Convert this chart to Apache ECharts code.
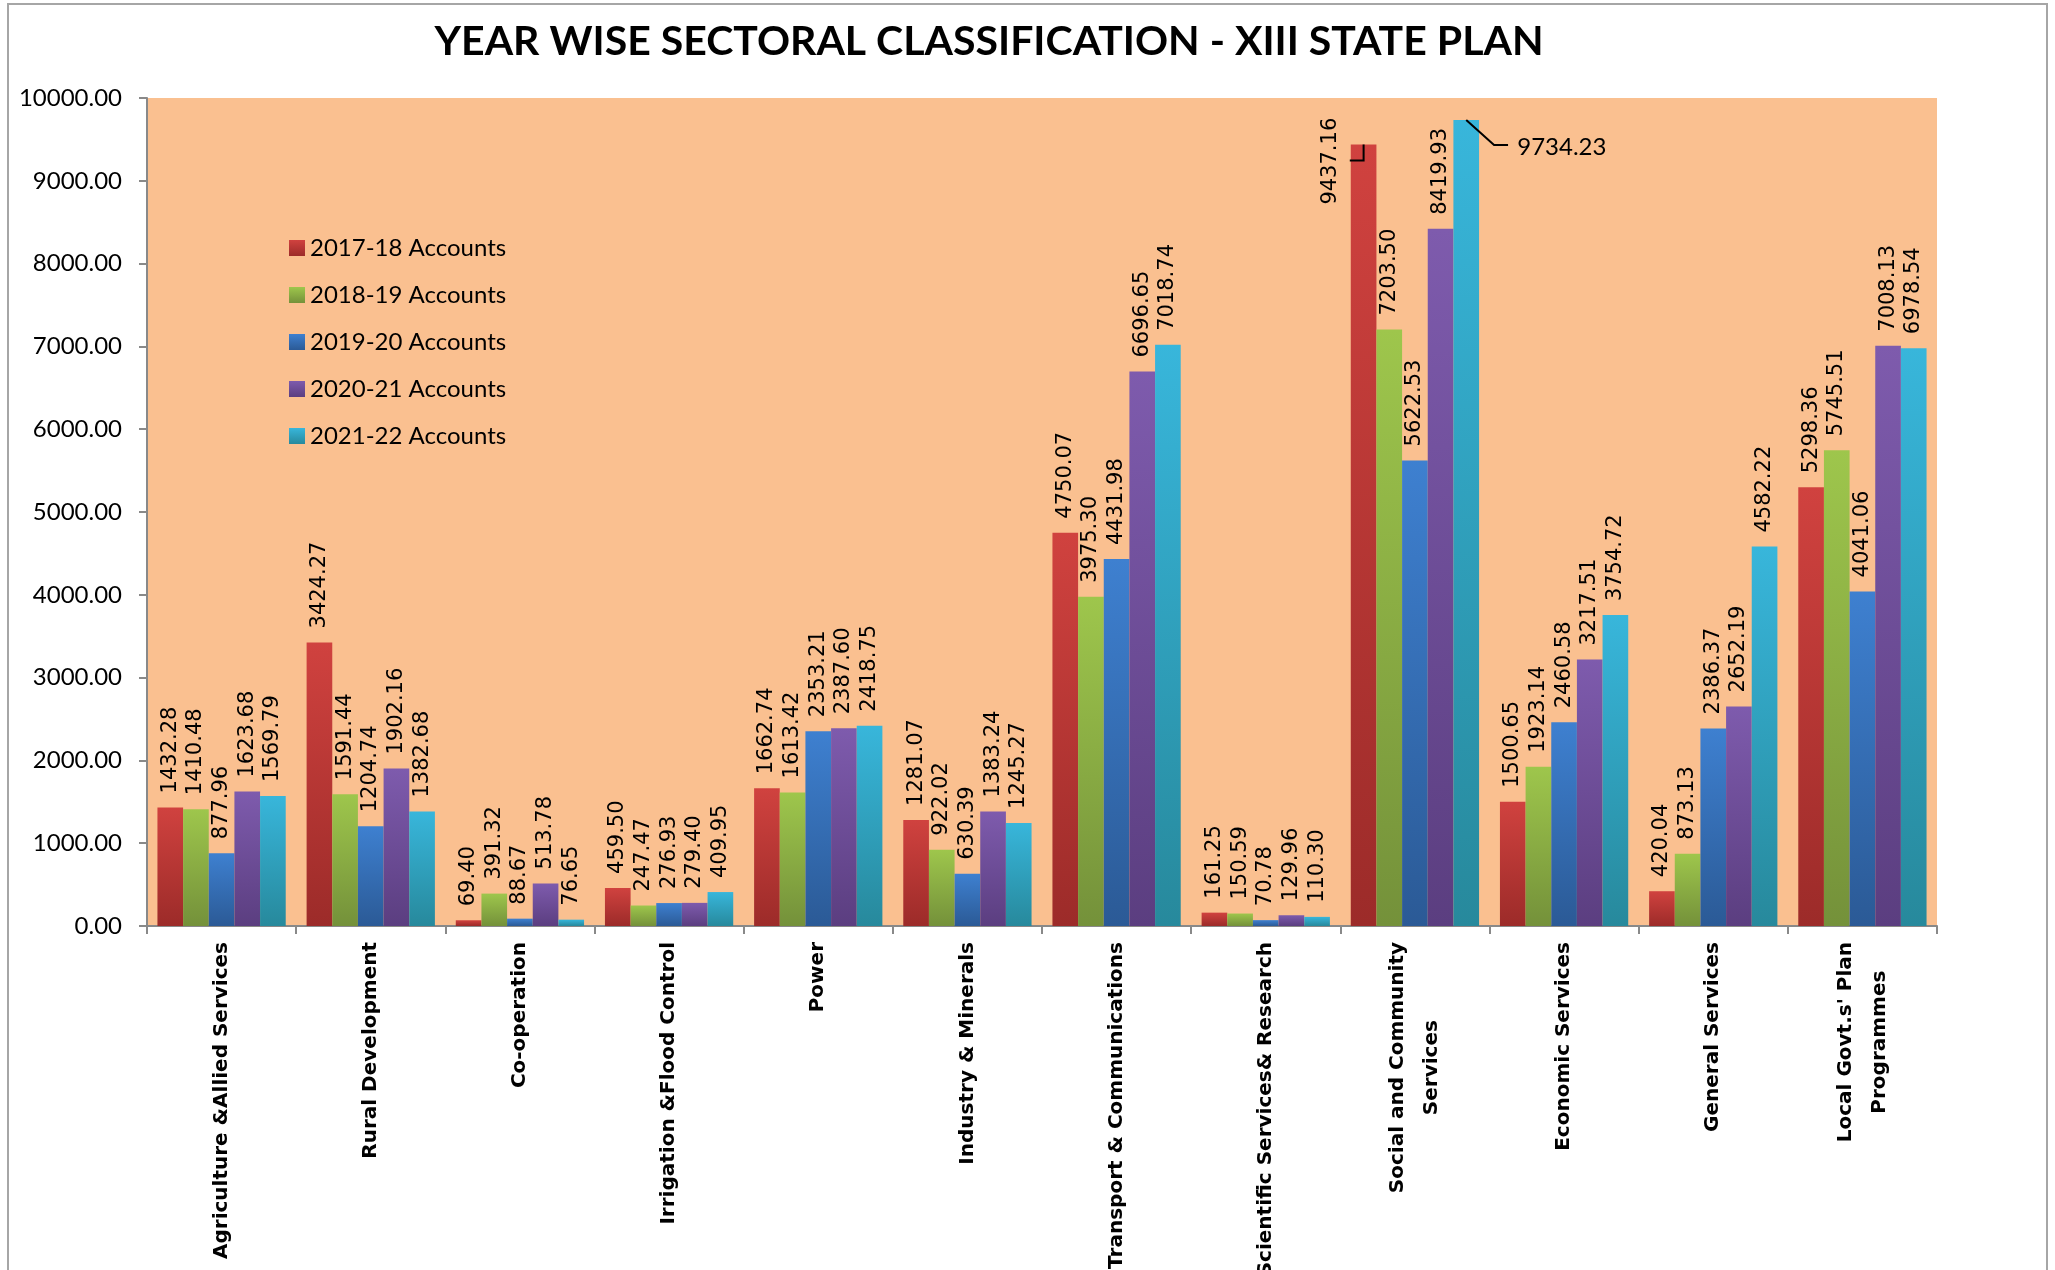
<!DOCTYPE html>
<html><head><meta charset="utf-8">
<script src="https://cdn.jsdelivr.net/npm/echarts@6/dist/echarts.min.js"></script>
<style>html,body{margin:0;padding:0;background:#fff}#c{width:2055px;height:1270px}</style>
</head><body><div id="c"></div>
<script>
const categories = [
  "Agriculture &Allied Services", "Rural Development", "Co-operation", "Irrigation &Flood Control",
  "Power", "Industry & Minerals", "Transport & Communications", "Scientific Services& Research",
  "Social and Community\nServices", "Economic Services", "General Services", "Local Govt.s' Plan\nProgrammes"
];
const seriesNames = ["2017-18 Accounts", "2018-19 Accounts", "2019-20 Accounts", "2020-21 Accounts", "2021-22 Accounts"];
const acc2017_18 = [1432.28, 3424.27, 69.40, 459.50, 1662.74, 1281.07, 4750.07, 161.25, 9437.16, 1500.65, 420.04, 5298.36];
const acc2018_19 = [1410.48, 1591.44, 391.32, 247.47, 1613.42, 922.02, 3975.30, 150.59, 7203.50, 1923.14, 873.13, 5745.51];
const acc2019_20 = [877.96, 1204.74, 88.67, 276.93, 2353.21, 630.39, 4431.98, 70.78, 5622.53, 2460.58, 2386.37, 4041.06];
const acc2020_21 = [1623.68, 1902.16, 513.78, 279.40, 2387.60, 1383.24, 6696.65, 129.96, 8419.93, 3217.51, 2652.19, 7008.13];
const acc2021_22 = [1569.79, 1382.68, 76.65, 409.95, 2418.75, 1245.27, 7018.74, 110.30, 9734.23, 3754.72, 4582.22, 6978.54];
const yMin = 0, yMax = 10000, yStep = 1000;

const allSeries = [acc2017_18, acc2018_19, acc2019_20, acc2020_21, acc2021_22];
const gradStops = [
  ['#D0423F', '#9C2B29'],
  ['#9EC64C', '#74913A'],
  ['#3E80D0', '#2B5A96'],
  ['#7E5BAD', '#5B3E80'],
  ['#38B6DB', '#27899C']
];
function grad(c) {
  return new echarts.graphic.LinearGradient(0, 0, 0, 1, [{offset: 0, color: c[0]}, {offset: 1, color: c[1]}]);
}
const labelFont = {fontFamily: 'DejaVu Sans', fontSize: 21, color: '#000'};
const calloutIndex = 8;

const chart = echarts.init(document.getElementById('c'), null, {renderer: 'canvas'});

const series = allSeries.map((vals, si) => {
  const data = vals.map((v, di) => {
    const item = {value: v};
    if (si === 4 && di === calloutIndex) {
      item.label = {rotate: 0, align: 'left', verticalAlign: 'middle', fontFamily: 'Lato', fontSize: 24};
    }
    return item;
  });
  const s = {
    name: seriesNames[si],
    type: 'bar',
    data: data,
    barGap: '0%',
    barCategoryGap: '14%',
    itemStyle: {color: grad(gradStops[si])},
    label: Object.assign({
      show: true, position: 'top', distance: 14, rotate: 90, align: 'left', verticalAlign: 'middle',
      formatter: p => Number(p.value).toFixed(2)
    }, labelFont),
    labelLine: {show: false},
    emphasis: {disabled: true}
  };
  if (si === 0) {
    // offset is applied in the label's rotated frame
    s.labelLayout = p => (p.dataIndex === calloutIndex ? {dx: -74, dy: -33} : {});
  }
  if (si === 4) {
    s.labelLayout = p => (p.dataIndex === calloutIndex ? {dx: 51, dy: 41} : {});
  }
  return s;
});

const borderRect = {
  id: 'border', type: 'rect', silent: true, z: -10,
  shape: {x: 8, y: 4, width: 2039, height: 1300},
  style: {fill: 'none', stroke: '#A6A6A6', lineWidth: 2}
};

chart.setOption({
  animation: false,
  backgroundColor: '#ffffff',
  title: {
    text: 'YEAR WISE SECTORAL CLASSIFICATION - XIII STATE PLAN',
    left: 984, top: 16, textAlign: 'center',
    textStyle: {fontFamily: 'Lato', fontWeight: 'bold', fontSize: 41, color: '#000'}
  },
  graphic: [borderRect],
  legend: {
    orient: 'vertical', left: 289, top: 236, padding: 0, itemWidth: 16, itemHeight: 16, itemGap: 23,
    icon: 'rect', data: seriesNames,
    textStyle: {fontFamily: 'Lato', fontSize: 24, lineHeight: 24, color: '#000'}
  },
  grid: {left: 147, right: 118, top: 98, bottom: 344, show: true, backgroundColor: '#FAC090', borderWidth: 0,
         containLabel: false, outerBoundsMode: 'none'},
  xAxis: {
    type: 'category', data: categories,
    axisLine: {lineStyle: {color: '#898989', width: 2}},
    axisTick: {show: true, length: 8, lineStyle: {color: '#898989', width: 2}},
    axisLabel: {
      interval: 0, rotate: 90, margin: 16, color: '#000',
      fontFamily: 'DejaVu Sans', fontWeight: 'bold', fontSize: 20,
      formatter: v => v.split('\n').map(s => '{c|' + s + '}').join('\n'),
      rich: {c: {align: 'center', fontFamily: 'DejaVu Sans', fontWeight: 'bold', fontSize: 20, color: '#000', lineHeight: 34}}
    }
  },
  yAxis: {
    type: 'value', min: yMin, max: yMax, interval: yStep,
    axisLine: {show: true, lineStyle: {color: '#898989', width: 2}},
    axisTick: {show: true, length: 8, lineStyle: {color: '#898989', width: 2}},
    splitLine: {show: false},
    axisLabel: {margin: 25, color: '#000', fontFamily: 'Lato', fontSize: 24, formatter: v => v.toFixed(2)}
  },
  series: series
});

// Leader lines for the two moved labels, attached to the laid-out bars
function barRect(si, di) {
  const l = chart.getModel().getSeriesByIndex(si).getData().getItemLayout(di);
  const x = Math.min(l.x, l.x + l.width), y = Math.min(l.y, l.y + l.height);
  return {x: x, y: y, w: Math.abs(l.width), h: Math.abs(l.height)};
}
const r0 = barRect(0, calloutIndex);
const r4 = barRect(4, calloutIndex);
const lineStyle = {stroke: '#000', lineWidth: 2, fill: null};
chart.setOption({
  graphic: [
    borderRect,
    {id: 'lead0', type: 'polyline', silent: true, z: 100,
     shape: {points: [[r0.x - 1, r0.y + 16], [r0.x + r0.w / 2, r0.y + 16], [r0.x + r0.w / 2, r0.y]]}, style: lineStyle},
    {id: 'lead4', type: 'polyline', silent: true, z: 100,
     shape: {points: [[r4.x + r4.w / 2, r4.y], [r4.x + r4.w + 15, r4.y + 25], [r4.x + r4.w + 29, r4.y + 25]]}, style: lineStyle}
  ]
});
</script>
</body></html>
